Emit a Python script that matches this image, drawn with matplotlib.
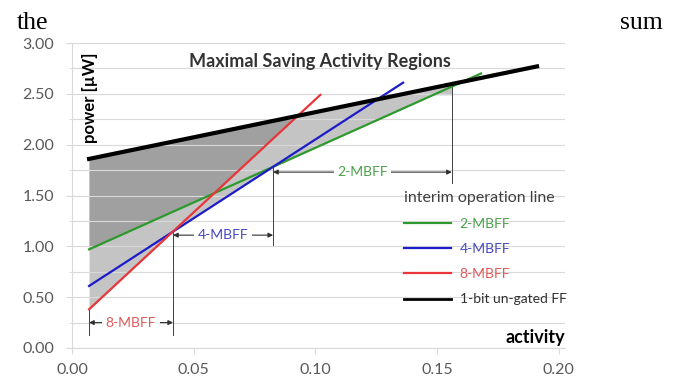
import numpy as np
import matplotlib.pyplot as plt

# line end points (activity, power in uW)
ff_x = [0.007, 0.191]
ff_y = [1.86, 2.77]
mbff2_x = [0.007, 0.168]
mbff2_y = [0.97, 2.70]
mbff4_x = [0.007, 0.136]
mbff4_y = [0.61, 2.61]
mbff8_x = [0.007, 0.102]
mbff8_y = [0.38, 2.49]

# activity ranges where each MBFF saves most
region_names = ['8-MBFF', '4-MBFF', '2-MBFF']
region_lo = [0.007, 0.0415, 0.0826]
region_hi = [0.0415, 0.0826, 0.156]
region_arrow_y = [0.25, 1.11, 1.73]
marker_x = [0.007, 0.0415, 0.0826, 0.156]
marker_bottom = [0.13, 0.13, 1.01, 1.62]

c_green = '#2e9a2e'
c_blue = '#1c1cc8'
c_red = '#e8363a'
txt_green = '#4aa04a'
txt_blue = '#4848c0'
txt_red = '#e05a5a'

plt.rcParams['font.family'] = ['Lato', 'DejaVu Sans']

fig = plt.figure(figsize=(6.8, 3.78), dpi=100)
ax = fig.add_axes([0.1059, 0.0794, 0.725, 0.8068])

# shaded saving regions
xs = np.linspace(region_lo[0], region_hi[-1], 600)
top = np.interp(xs, ff_x, ff_y)
lines = [np.interp(xs, mbff2_x, mbff2_y),
         np.interp(xs, mbff4_x, mbff4_y),
         np.interp(xs, mbff8_x, mbff8_y)]
low_env = np.minimum.reduce(lines)
high_env = np.maximum.reduce(lines)
ax.fill_between(xs, low_env, top, where=low_env <= top, color='#c4c4c4', lw=0, zorder=1)
ax.fill_between(xs, high_env, top, where=high_env <= top, color='#a0a0a0', lw=0, zorder=1)

ax.plot(mbff2_x, mbff2_y, color=c_green, lw=1.6, label='2-MBFF', zorder=3)
ax.plot(mbff4_x, mbff4_y, color=c_blue, lw=1.6, label='4-MBFF', zorder=3)
ax.plot(mbff8_x, mbff8_y, color=c_red, lw=1.6, label='8-MBFF', zorder=3)
ax.plot(ff_x, ff_y, color='black', lw=3, label='1-bit un-gated FF', zorder=4)

# boundary markers
all_lines = [(mbff8_x, mbff8_y), (mbff4_x, mbff4_y), (mbff2_x, mbff2_y), (ff_x, ff_y)]
for i, xm in enumerate(marker_x):
    lx, ly = all_lines[i]
    ytop = np.interp(xm, lx, ly)
    ax.plot([xm, xm], [marker_bottom[i], ytop], color='#404040', lw=0.7, zorder=2)

for name, lo, hi, ya, col in zip(region_names, region_lo, region_hi, region_arrow_y,
                                 [txt_red, txt_blue, txt_green]):
    ax.annotate('', xy=(lo, ya), xytext=(hi, ya),
                arrowprops=dict(arrowstyle='<|-|>', color='#303030', lw=0.8,
                                mutation_scale=7, shrinkA=0, shrinkB=0), zorder=2)
    ax.text((lo + hi) / 2, ya, name, color=col, fontsize=10, ha='center', va='center',
            bbox=dict(boxstyle='square,pad=0.25', fc='white', ec='none'), zorder=3)

ax.set_xlim(0, 0.2025)
ax.set_ylim(0, 3.0)
ax.set_xticks([0, 0.05, 0.10, 0.15, 0.20])
ax.set_xticklabels(['0.00', '0.05', '0.10', '0.15', '0.20'])
ax.set_yticks(np.arange(0, 3.01, 0.5))
ax.set_yticklabels(['%.2f' % v for v in np.arange(0, 3.01, 0.5)])
ax.set_yticks(np.arange(0, 3.01, 0.25), minor=True)
ax.tick_params(axis='both', labelsize=11.5, colors='#595959', length=4, width=0.8)
ax.tick_params(axis='y', which='both', pad=9, color='#d9d9d9')
ax.tick_params(axis='x', pad=7, color='#d9d9d9')
ax.grid(axis='y', which='both', color='#d9d9d9', lw=0.8)
ax.set_axisbelow('line')

for s in ['top', 'right']:
    ax.spines[s].set_visible(False)
for s in ['left', 'bottom']:
    ax.spines[s].set_color('#d9d9d9')
    ax.spines[s].set_linewidth(0.8)

ax.text(0.503, 0.941, 'Maximal Saving Activity Regions', transform=ax.transAxes,
        fontsize=13, fontweight='bold', color='#333333', ha='center', va='center')
ax.text(0.0365, 0.82, 'power [µW]', transform=ax.transAxes, rotation=90,
        fontsize=12, fontweight='bold', color='black', ha='center', va='center')
ax.text(1.0, 0.036, 'activity', transform=ax.transAxes,
        fontsize=13, fontweight='bold', color='black', ha='right', va='center')

leg = ax.legend(loc='upper left', bbox_to_anchor=(0.668, 0.525), frameon=False,
                title='interim operation line', title_fontsize=11.5, fontsize=10,
                handlelength=3.4, handletextpad=0.6, labelspacing=0.95,
                alignment='left', borderaxespad=0, borderpad=0.2,
                labelcolor=[txt_green, txt_blue, txt_red, '#303030'])
leg.get_title().set_color('#404040')
leg.legend_handles[3].set_linewidth(2)

# surrounding page text
fig.text(17 / 680, 1 - 29 / 378, 'the', fontsize=18.5, family='Liberation Serif',
         ha='left', va='baseline')
fig.text(663 / 680, 1 - 29 / 378, 'sum', fontsize=18.5, family='Liberation Serif',
         ha='right', va='baseline')

fig.savefig('out.png', dpi=100)
